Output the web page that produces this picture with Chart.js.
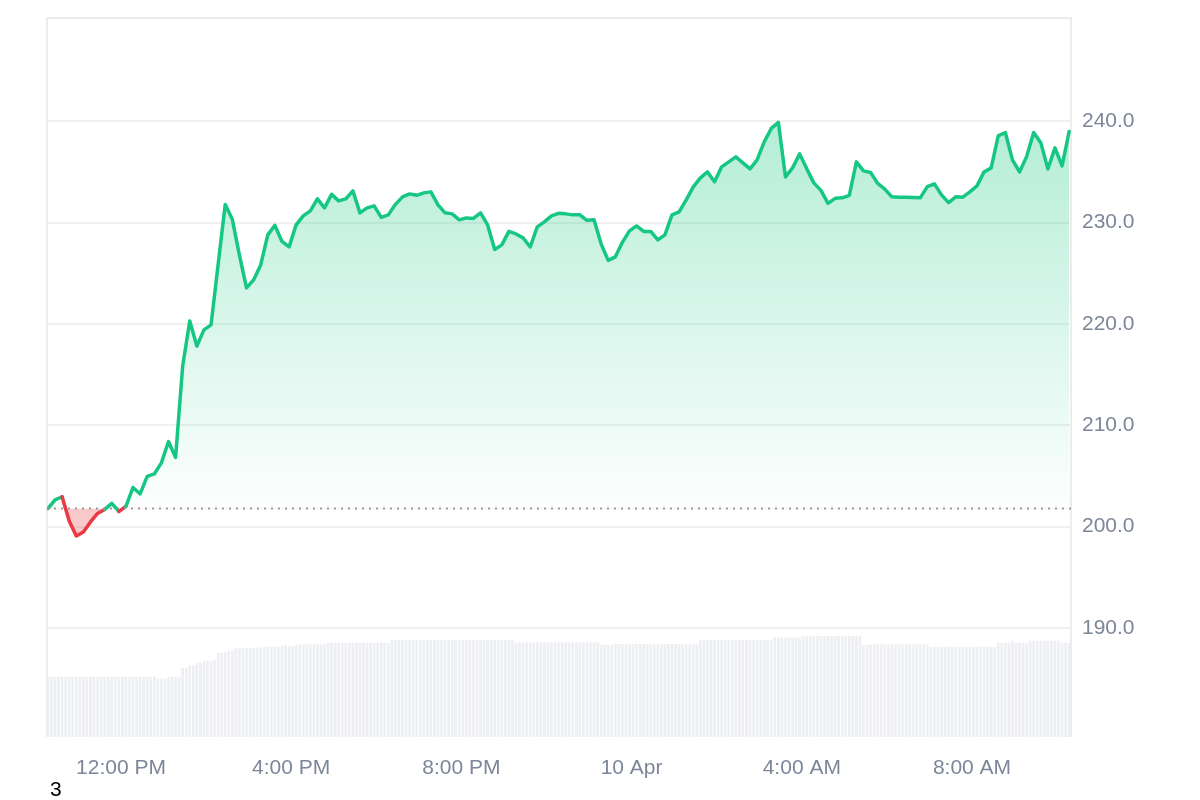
<!DOCTYPE html>
<html>
<head>
<meta charset="utf-8">
<script src="https://cdn.jsdelivr.net/npm/chart.js@4/dist/chart.umd.min.js"></script>
<style>
  html, body { margin: 0; padding: 0; background: #fff; }
  #wrap { position: relative; width: 1200px; height: 800px; }
  #note { position: absolute; left: 50px; top: 778px; font: 21px 'Liberation Sans', Arial, sans-serif; line-height: 1; color: #000; }
</style>
</head>
<body>
<div id="wrap">
  <canvas id="c"></canvas>
  <div id="note">3</div>
</div>
<script>
// Price chart — 24h, price line + volume bars
const GREEN = '#16c784';
const RED = '#ea3943';
const LABEL = '#7d8699';
const FONT = "'Liberation Sans', Arial, sans-serif";

// minutes relative to 12:00 PM (9 Apr)
const T0 = -103;
const PRICE_STEP = 10;
const VOL_STEP = 5;

const X_TICKS = [0, 240, 480, 720, 960, 1200];
const X_LABELS = ['12:00 PM', '4:00 PM', '8:00 PM', '10 Apr', '4:00 AM', '8:00 AM'];
const Y_TICKS = [190, 200, 210, 220, 230, 240];

const PRICES = [
  201.78, 202.64, 202.95, 200.56, 199.08, 199.48, 200.46, 201.30, 201.70, 202.30, 201.50, 202.00,
  203.87, 203.23, 204.96, 205.20, 206.29, 208.40, 206.83, 215.86, 220.30, 217.82, 219.42, 219.91,
  225.87, 231.80, 230.33, 226.82, 223.56, 224.35, 225.83, 228.80, 229.73, 228.15, 227.61, 229.78,
  230.67, 231.16, 232.35, 231.46, 232.79, 232.15, 232.35, 233.14, 230.97, 231.46, 231.66, 230.52,
  230.77, 231.81, 232.55, 232.84, 232.70, 232.94, 233.04, 231.76, 230.97, 230.87, 230.28, 230.47,
  230.42, 230.97, 229.78, 227.36, 227.81, 229.14, 228.89, 228.50, 227.60, 229.59, 230.08, 230.67,
  230.92, 230.87, 230.77, 230.77, 230.23, 230.28, 227.91, 226.28, 226.62, 228.06, 229.19, 229.68,
  229.14, 229.14, 228.30, 228.80, 230.77, 231.07, 232.25, 233.53, 234.42, 235.01, 234.03, 235.51,
  236.00, 236.49, 235.90, 235.31, 236.20, 237.97, 239.30, 239.90, 234.52, 235.41, 236.79, 235.31,
  233.93, 233.19, 231.91, 232.40, 232.45, 232.70, 236.00, 235.11, 234.96, 233.88, 233.31, 232.55,
  232.50, 232.52, 232.48, 232.45, 233.56, 233.83, 232.74, 231.98, 232.55, 232.52, 233.04, 233.63,
  235.01, 235.41, 238.57, 238.90, 236.20, 235.01, 236.52, 238.90, 237.90, 235.31, 237.38, 235.60,
  239.00,
];

// volume (M), 5-minute bars
const VOLUMES = [
  302, 302, 302, 302, 302, 302, 302, 302, 302, 302, 302, 302,
  302, 302, 302, 302, 302, 302, 302, 302, 302, 302, 302, 302,
  302, 302, 302, 302, 302, 302, 302, 292, 292, 292, 302, 302,
  302, 302, 346, 346, 361, 361, 371, 371, 381, 381, 381, 386,
  421, 421, 426, 432, 432, 444, 444, 444, 447, 447, 447, 447,
  447, 452, 452, 452, 452, 452, 456, 461, 456, 456, 461, 464,
  464, 464, 464, 464, 464, 464, 464, 472, 472, 472, 472, 472,
  472, 472, 472, 472, 472, 472, 472, 472, 472, 472, 472, 472,
  472, 486, 486, 486, 486, 486, 486, 486, 486, 486, 486, 486,
  486, 486, 486, 486, 486, 486, 486, 486, 486, 486, 486, 486,
  486, 486, 486, 486, 486, 486, 486, 486, 486, 486, 486, 486,
  474, 474, 474, 474, 474, 474, 474, 474, 474, 474, 474, 474,
  474, 474, 474, 474, 474, 474, 474, 474, 474, 474, 474, 474,
  462, 462, 462, 462, 466, 466, 466, 466, 466, 466, 466, 466,
  466, 466, 466, 466, 466, 466, 466, 466, 466, 466, 466, 466,
  466, 466, 466, 466, 486, 486, 486, 486, 486, 486, 486, 486,
  486, 486, 486, 486, 486, 486, 486, 486, 486, 486, 486, 486,
  486, 498, 498, 498, 498, 498, 498, 498, 498, 506, 506, 506,
  506, 506, 506, 506, 506, 506, 506, 506, 506, 506, 506, 506,
  506, 506, 461, 461, 464, 464, 464, 464, 464, 464, 464, 464,
  464, 464, 464, 464, 464, 464, 464, 464, 464, 451, 451, 451,
  451, 451, 451, 451, 451, 451, 451, 451, 451, 451, 451, 451,
  451, 451, 451, 451, 472, 472, 472, 472, 482, 472, 472, 472,
  472, 482, 482, 482, 482, 482, 482, 482, 482, 482, 472, 472,
  472,
];

const BASE = PRICES[0];
const X_MIN = -104.3, X_MAX = 1339.6;
const Y_MIN = 179.24, Y_MAX = 250.2;
const VOL_MAX = 3600;

const pricePts = PRICES.map((v, i) => ({ x: T0 + i * PRICE_STEP, y: v }));
const volPts = VOLUMES.map((v, i) => ({ x: T0 + i * VOL_STEP, y: v }));

function greenFill(ctx) {
  const { chart } = ctx;
  const { chartArea, scales } = chart;
  if (!chartArea) return 'rgba(22,199,132,0.2)';
  const yTop = scales.y.getPixelForValue(Math.max(...PRICES));
  const yBase = scales.y.getPixelForValue(BASE);
  const g = chart.ctx.createLinearGradient(0, yTop, 0, yBase);
  g.addColorStop(0, 'rgba(22,199,132,0.32)');
  g.addColorStop(1, 'rgba(22,199,132,0.01)');
  return g;
}

const framePlugin = {
  id: 'frame',
  beforeDraw(chart) {
    const { ctx, chartArea: a } = chart;
    ctx.save();
    ctx.strokeStyle = '#ececec';
    ctx.lineWidth = 2;
    ctx.beginPath();
    ctx.moveTo(a.left, a.bottom);
    ctx.lineTo(a.left, a.top);
    ctx.lineTo(a.right, a.top);
    ctx.lineTo(a.right, a.bottom);
    ctx.stroke();
    ctx.restore();
  },
};

new Chart(document.getElementById('c'), {
  data: {
    datasets: [
      {
        type: 'line',
        data: pricePts,
        order: 0,
        borderWidth: 3.5,
        borderColor: GREEN,
        borderJoinStyle: 'round',
        borderCapStyle: 'round',
        backgroundColor: greenFill,
        fill: { target: { value: BASE }, below: 'rgba(234,57,67,0.28)' },
        pointRadius: 0,
        tension: 0,
        segment: {
          borderColor: c => ((c.p0.parsed.y + c.p1.parsed.y) / 2 < BASE ? RED : GREEN),
        },
      },
      {
        type: 'line',
        data: [{ x: X_MIN, y: BASE }, { x: X_MAX, y: BASE }],
        order: -1,
        borderColor: '#999999',
        borderWidth: 2,
        borderDash: [2, 5],
        pointRadius: 0,
        fill: false,
      },
      {
        type: 'bar',
        data: volPts,
        yAxisID: 'yv',
        order: 2,
        backgroundColor: '#edeff2',
        categoryPercentage: 1,
        barPercentage: 0.75,
      },
    ],
  },
  options: {
    responsive: true, maintainAspectRatio: false, animation: false,
    layout: { padding: { left: 47, top: 18, right: 0, bottom: 0 } },
    plugins: { legend: { display: false }, tooltip: { enabled: false } },
    scales: {
      x: {
        type: 'linear', min: X_MIN, max: X_MAX, offset: false,
        afterBuildTicks: s => { s.ticks = X_TICKS.map(v => ({ value: v })); },
        afterFit: s => { s.height = 63; s.paddingLeft = 0; s.paddingRight = 0; },
        grid: { display: false, drawTicks: false, offset: false },
        border: { display: false },
        ticks: {
          padding: 19, color: LABEL, maxRotation: 0, autoSkip: false,
          font: { size: 21, family: FONT },
          callback: v => X_LABELS[X_TICKS.indexOf(v)],
        },
      },
      y: {
        position: 'right', min: Y_MIN, max: Y_MAX,
        afterBuildTicks: s => { s.ticks = Y_TICKS.map(v => ({ value: v })); },
        afterFit: s => { s.width = 129; s.paddingTop = 0; s.paddingBottom = 0; },
        grid: { color: '#f0f0f0', lineWidth: 2, drawTicks: false },
        border: { display: false },
        ticks: {
          padding: 11, color: LABEL,
          font: { size: 21, family: FONT },
          callback: v => v.toFixed(1),
        },
      },
      yv: { display: false, min: 0, max: VOL_MAX },
    },
  },
  plugins: [framePlugin],
});
</script>
</body>
</html>
